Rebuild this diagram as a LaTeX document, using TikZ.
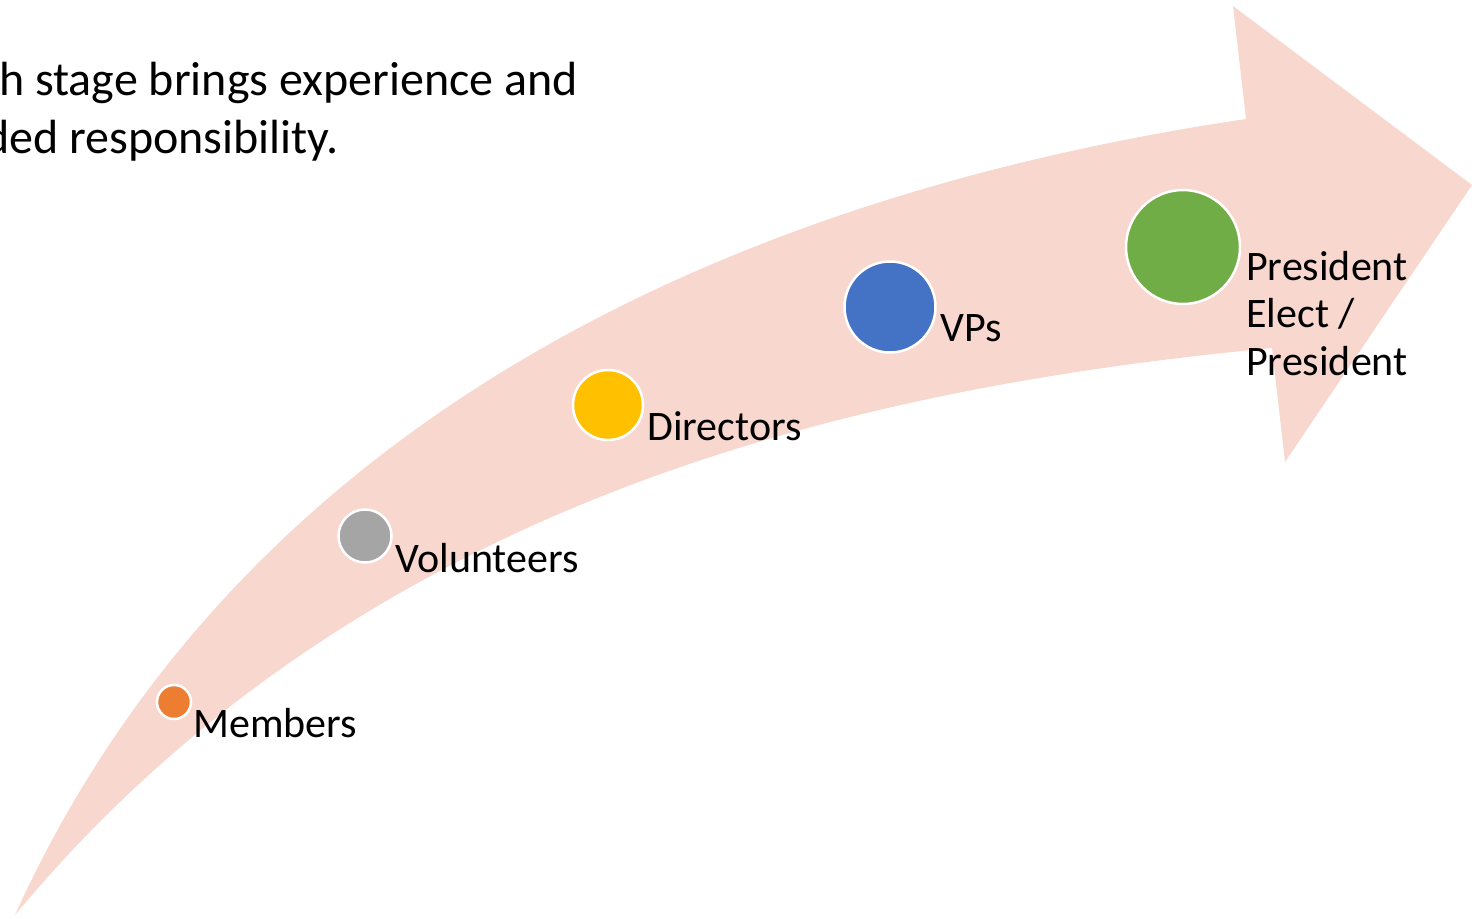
\documentclass[tikz,border=0pt]{standalone}
\usepackage{fontspec}
\setmainfont{Carlito}
\definecolor{arrowfill}{HTML}{F8D8CE}
\definecolor{cOrange}{HTML}{ED7D31}
\definecolor{cGray}{HTML}{A5A5A5}
\definecolor{cGold}{HTML}{FFC000}
\definecolor{cBlue}{HTML}{4472C4}
\definecolor{cGreen}{HTML}{70AD47}
\tikzset{
  dot/.style={circle, draw=white, line width=2.5pt, inner sep=0pt},
  lbl/.style={anchor=base west, inner sep=0pt, align=left, font=\fontsize{42}{47.5}\selectfont},
}
\begin{document}
\begin{tikzpicture}[x=1pt,y=-1pt]
\useasboundingbox (0,0) rectangle (1472,918);
\fill[arrowfill] (15,915) .. controls (230,440) and (700,200) .. (1246,119)
  -- (1233,6) -- (1472,185) -- (1285,462) -- (1272,348)
  .. controls (852,388) and (360,500) .. (15,915) -- cycle;
\node[anchor=base west, inner sep=0pt, align=left, font=\fontsize{48}{58}\selectfont] (intro) at (-1,153) {h stage brings experience and\\\hspace*{-15pt}ded responsibility.};
\node[dot, fill=cOrange, minimum size=34pt] (c1) at (174,702) {};
\node[dot, fill=cGray, minimum size=53pt] (c2) at (365,536) {};
\node[dot, fill=cGold, minimum size=70pt] (c3) at (608,405) {};
\node[dot, fill=cBlue, minimum size=91pt] (c4) at (890,307) {};
\node[dot, fill=cGreen, minimum size=114pt] (c5) at (1183,247) {};
\node[lbl] (l1) at (193,737) {Members};
\node[lbl] (l2) at (395,572) {Volunteers};
\node[lbl] (l3) at (647,440) {Directors};
\node[lbl] (l4) at (940,341) {VPs};
\node[lbl] (l5) at (1246,375) {President\\Elect /\\President};
\end{tikzpicture}
\end{document}
